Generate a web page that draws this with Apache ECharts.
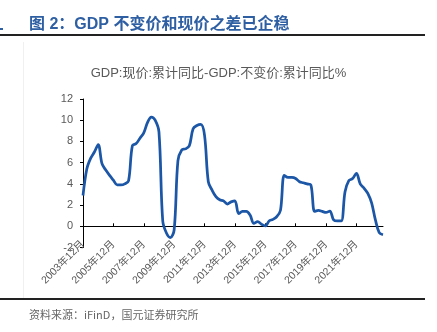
<!DOCTYPE html>
<html>
<head>
<meta charset="utf-8">
<script src="https://cdn.jsdelivr.net/npm/echarts@6/dist/echarts.min.js"></script>
<style>
html,body{margin:0;padding:0;background:#fff;}
#c{width:437px;height:332px;}
</style>
</head>
<body>
<div id="c"></div>
<script>
// Quarterly categories from 2003-12 to 2023-09
const startYear = 2003;
const startMonth = 12;
const pointCount = 80;
const categories = [];
for (let i = 0; i < pointCount; i++) {
  const total = startYear * 12 + (startMonth - 1) + i * 3;
  const y = Math.floor(total / 12);
  const m = total % 12 + 1;
  categories.push(y + '年' + m + '月');
}

// GDP nominal cumulative YoY minus real cumulative YoY (%)
const diffValues = [
  2.9, 5.4, 6.4, 7.0, 7.7, 5.9, 5.3, 4.8, 4.35, 3.9,
  3.9, 4.0, 4.3, 7.6, 7.8, 8.3, 8.8, 9.8, 10.3, 10.0,
  8.9, 0.5, -0.66, -1.07, -0.35, 6.2, 7.2, 7.3, 7.6, 9.2,
  9.5, 9.6, 8.6, 4.2, 3.4, 2.8, 2.5, 2.4, 2.1, 2.3,
  2.4, 1.2, 1.4, 1.4, 1.06, 0.28, 0.43, 0.19, 0.03, 0.5,
  0.65, 0.9, 1.5, 4.8, 4.6, 4.6, 4.5, 4.2, 4.1, 4.0,
  3.9, 1.4, 1.5, 1.4, 1.3, 1.44, 0.6, 0.5, 0.5, 3.25,
  4.3, 4.5, 5.0, 4.0, 3.6, 3.1, 2.2, 0.6, -0.6, -0.8
];

const yTicks = { min: -2, max: 12, interval: 2 };

const headerTitle = '图 2：GDP 不变价和现价之差已企稳';
const chartTitle = 'GDP:现价:累计同比-GDP:不变价:累计同比%';
const sourceText = '资料来源：iFinD，国元证券研究所';

const chart = echarts.init(document.getElementById('c'), null, { renderer: 'canvas' });
const FONT = '"Liberation Sans", "Noto Sans CJK SC", sans-serif';

chart.setOption({
  animation: false,
  backgroundColor: '#fff',
  textStyle: { fontFamily: FONT },
  title: [
    {
      text: headerTitle,
      left: 24, top: 12,
      textStyle: { fontFamily: FONT, fontSize: 16, fontWeight: 'bold', color: '#2E5FA3' }
    },
    {
      text: chartTitle,
      left: 'center', top: 62,
      textStyle: { fontFamily: FONT, fontSize: 13, fontWeight: 'normal', color: '#595959' }
    },
    {
      text: sourceText,
      left: 24, top: 304,
      textStyle: { fontFamily: '"Noto Sans CJK SC", sans-serif', fontSize: 11, fontWeight: 'normal', color: '#666' }
    }
  ],
  graphic: [
    { type: 'rect', shape: { x: 0, y: 34, width: 425, height: 2 }, style: { fill: '#222' } },
    { type: 'rect', shape: { x: 0, y: 298, width: 425, height: 2 }, style: { fill: '#222' } },
    { type: 'rect', shape: { x: 23, y: 42, width: 1, height: 256 }, style: { fill: '#f0f0f0' } },
    { type: 'rect', shape: { x: 0, y: 28, width: 3, height: 2 }, style: { fill: '#2E5FA3' } }
  ],
  grid: { left: 83, right: 54, top: 99, bottom: 84.5, containLabel: false },
  xAxis: {
    type: 'category',
    data: categories,
    boundaryGap: false,
    axisLine: { onZero: true, lineStyle: { color: '#000', width: 1 } },
    axisTick: { show: true, inside: true, interval: 7, length: 3, lineStyle: { color: '#000' } },
    axisLabel: {
      interval: 7, rotate: 45, margin: -5,
      fontSize: 10.5, color: '#595959', fontFamily: FONT
    },
    splitLine: { show: false }
  },
  yAxis: {
    type: 'value',
    min: yTicks.min, max: yTicks.max, interval: yTicks.interval,
    axisLine: { show: true, lineStyle: { color: '#000', width: 1 } },
    axisTick: { show: true, inside: false, length: 3, lineStyle: { color: '#000' } },
    axisLabel: { fontSize: 11, color: '#595959', margin: 10, fontFamily: FONT },
    splitLine: { show: false }
  },
  series: [
    {
      type: 'line',
      data: diffValues,
      smooth: 0.35,
      symbol: 'none',
      lineStyle: { color: '#1C56A6', width: 2.75 }
    }
  ]
});
</script>
</body>
</html>
